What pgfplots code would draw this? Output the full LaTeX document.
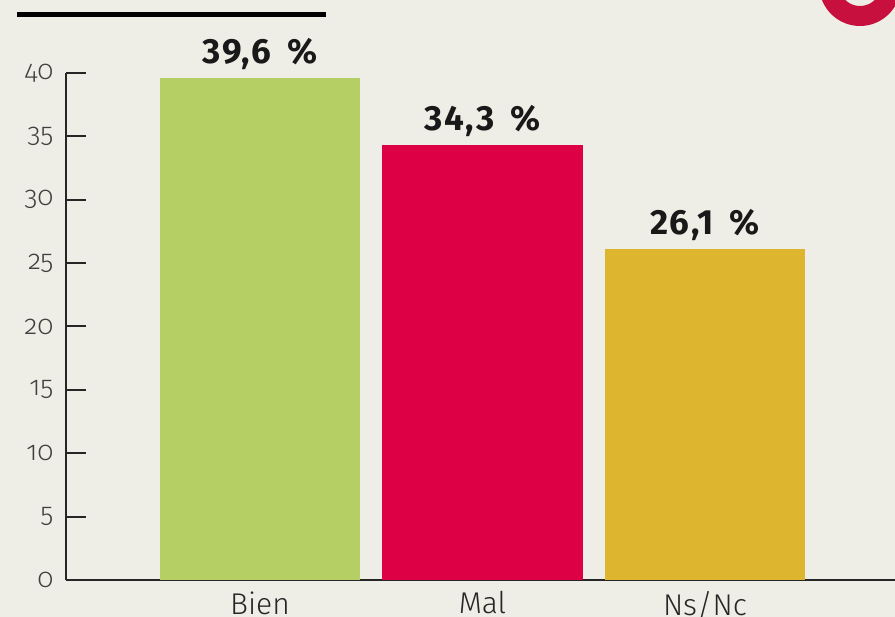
\documentclass[border=0pt]{standalone}
\usepackage{fontspec}
\setmainfont{Fira Sans}
\newfontfamily\lightfont{Fira Sans Light}[RawFeature=+onum]
\newfontfamily\valfont{Fira Sans}[LetterSpace=5]
\usepackage{pgfplots}
\pgfplotsset{compat=1.18}
\definecolor{bg}{HTML}{EFEEE6}
\definecolor{cgreen}{HTML}{B5CF65}
\definecolor{cred}{HTML}{DE0045}
\definecolor{cyellow}{HTML}{DEB52E}
\definecolor{cring}{HTML}{C8103F}
\begin{document}
\begin{tikzpicture}
\fill[bg] (0pt,0pt) rectangle (895pt,617pt);
\useasboundingbox (0pt,0pt) rectangle (895pt,617pt);
\begin{scope}
\clip (0pt,0pt) rectangle (895pt,617pt);
\draw[cring, line width=20pt] (860pt,631.8pt) circle (30.8pt);
\end{scope}
\draw[line width=5pt, black] (17pt,602pt) -- (326pt,602pt);
\begin{axis}[
    at={(66pt,37pt)}, anchor=south west,
    scale only axis,
    width=829pt, height=507pt,
    xmin=-0.872, xmax=2.854,
    ymin=0, ymax=40,
    axis x line=bottom, axis y line=left,
    axis line style={-, line width=2pt, black!85},
    ytick={0,5,...,40},
    ytick align=inside,
    major tick length=20pt,
    y tick style={line width=2pt, black!85},
    xtick={0,1,2},
    xticklabels={Bien,Mal,Ns/Nc},
    x tick style={draw=none},
    /pgf/number format/assume math mode=true,
    yticklabel style={font=\lightfont\fontsize{27}{27}\selectfont, text=black!75, xshift=-9pt},
    xticklabel style={font=\lightfont\fontsize{30}{30}\selectfont, text=black!85, yshift=2pt},
    every node near coord/.append style={font=\valfont\bfseries\fontsize{35}{35}\selectfont, text=black!90, yshift=5pt},
    point meta=explicit symbolic,
    clip=false,
]
\addplot[ybar, bar width=0.899, bar shift=0pt, fill=cgreen, draw=none, nodes near coords] coordinates {(0,39.6) [39,6\hspace{0.45em}\%]};
\addplot[ybar, bar width=0.899, bar shift=0pt, fill=cred, draw=none, nodes near coords] coordinates {(1,34.3) [34,3\hspace{0.45em}\%]};
\addplot[ybar, bar width=0.899, bar shift=0pt, fill=cyellow, draw=none, nodes near coords] coordinates {(2,26.1) [26,1\hspace{0.45em}\%]};
\end{axis}
\end{tikzpicture}
\end{document}
